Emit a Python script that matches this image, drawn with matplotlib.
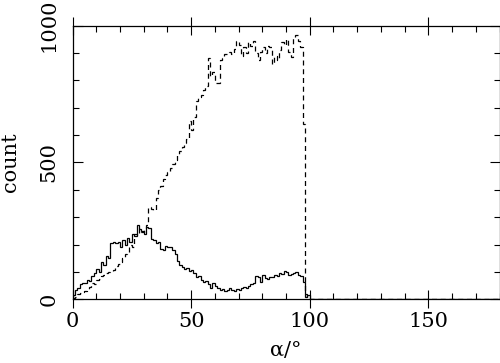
import numpy as np
import matplotlib
matplotlib.use("Agg")
import matplotlib.pyplot as plt

# 1-degree bins, 0..99 deg; everything beyond 100 deg is empty
solid_counts = [
    15, 35, 40, 55, 58, 60, 70, 68, 85, 95,
    110, 100, 135, 125, 160, 150, 205, 208, 205, 210,
    190, 215, 200, 225, 210, 240, 230, 270, 255, 250,
    240, 265, 262, 220, 215, 205, 210, 185, 180, 195,
    190, 192, 180, 165, 140, 125, 118, 110, 115, 105,
    108, 95, 82, 84, 72, 65, 68, 55, 40, 60,
    50, 42, 35, 38, 32, 33, 40, 35, 30, 36,
    34, 40, 45, 42, 50, 56, 60, 85, 80, 65,
    90, 78, 75, 82, 80, 88, 85, 95, 92, 105,
    100, 88, 92, 95, 100, 90, 85, 65, 8, 15,
]
dashed_counts = [
    5, 10, 18, 22, 28, 30, 35, 45, 60, 55,
    70, 75, 85, 90, 95, 100, 102, 108, 120, 130,
    135, 150, 165, 170, 200, 190, 240, 235, 255, 245,
    260, 270, 338, 330, 326, 370, 400, 415, 440, 455,
    465, 480, 495, 510, 530, 540, 555, 570, 585, 650,
    620, 665, 725, 740, 745, 765, 780, 880, 815, 830,
    790, 790, 875, 880, 895, 900, 905, 895, 915, 945,
    930, 890, 920, 900, 940, 925, 945, 900, 875, 905,
    920, 900, 925, 920, 858, 890, 875, 910, 940, 930,
    950, 905, 885, 955, 965, 945, 920, 640, 20, 0,
]
X_MAX = 180

edges = np.arange(0, X_MAX + 1)
pad = np.zeros(X_MAX - len(solid_counts))
solid = np.concatenate([solid_counts, pad])
dashed = np.concatenate([dashed_counts, pad])

plt.rcParams["font.family"] = ["DejaVu Serif"]
plt.rcParams["font.size"] = 15

fig = plt.figure(figsize=(5.0, 3.63), dpi=100)
ax = fig.add_axes([0.145, 0.1755, 0.854, 0.754])

ax.stairs(solid, edges, color="black", lw=0.9)
ax.stairs(dashed, edges, color="black", lw=0.9, linestyle=(0, (4, 3)))

ax.set_xlim(0, X_MAX)
ax.set_ylim(0, 1000)
ax.set_xticks([0, 50, 100, 150])
ax.set_xticks(np.arange(0, X_MAX + 1, 10), minor=True)
ax.set_yticks([0, 500, 1000])
ax.set_yticks(np.arange(0, 1001, 100), minor=True)
ax.set_yticklabels(["0", "500", "1000"], rotation=90, va="center")

ax.tick_params(which="both", direction="in", top=True, right=True, width=0.8)
ax.tick_params(which="major", length=7)
ax.tick_params(which="minor", length=4)
ax.tick_params(axis="x", which="major", direction="inout", length=13, pad=3)
ax.tick_params(axis="y", which="major", pad=10)
for s in ax.spines.values():
    s.set_linewidth(0.9)

ax.set_xlabel("α/°", labelpad=7)
ax.set_ylabel("count", labelpad=14)

fig.savefig("out.png", dpi=100)
